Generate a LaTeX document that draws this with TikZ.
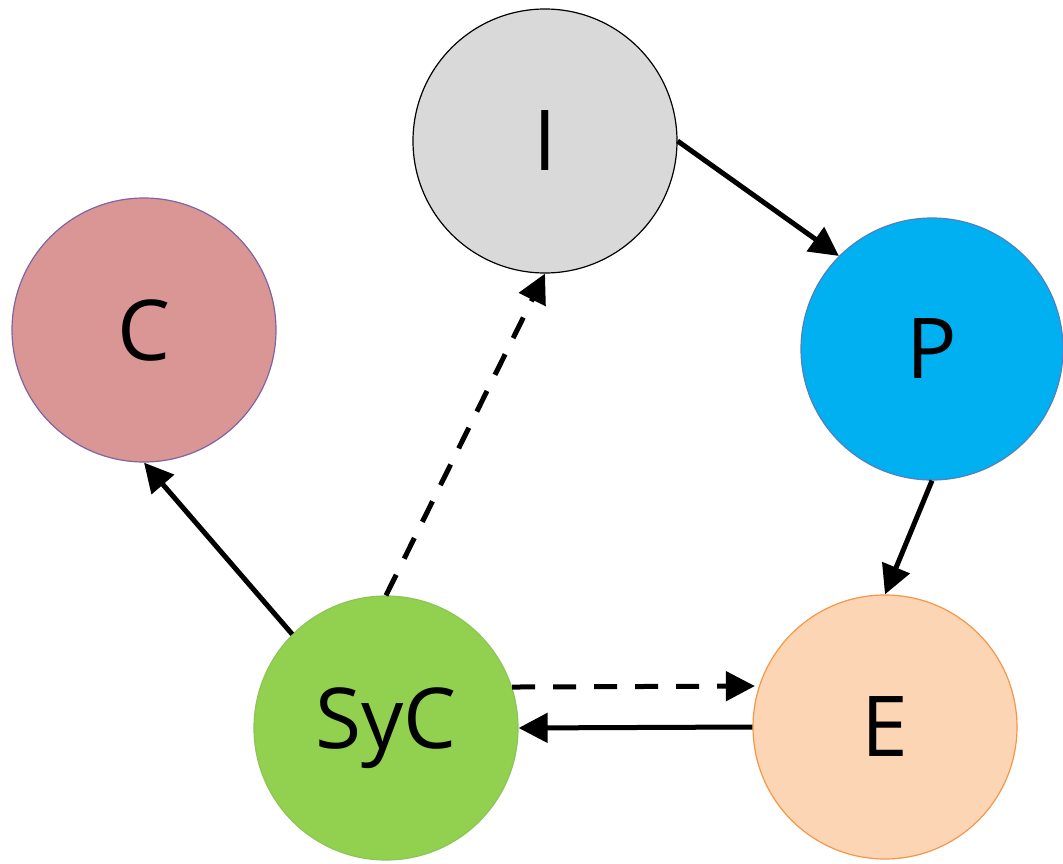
\documentclass[tikz,border=0pt]{standalone}
\usepackage{fontspec}
\setmainfont{Open Sans}
\usetikzlibrary{arrows.meta}

\definecolor{igray}{HTML}{D9D9D9}
\definecolor{cred}{HTML}{D99694}
\definecolor{cborder}{HTML}{8064A2}
\definecolor{pblue}{HTML}{00B0F0}
\definecolor{pborder}{HTML}{4F81BD}
\definecolor{sgreen}{HTML}{92D050}
\definecolor{sborder}{HTML}{8DC455}
\definecolor{epeach}{HTML}{FCD5B5}
\definecolor{eborder}{HTML}{F79646}

\begin{document}
\begin{tikzpicture}[
                x=1pt, y=-1pt,
                state/.style={circle, draw, line width=1.2pt, minimum size=264pt, inner sep=0pt,
                    font=\fontsize{84}{84}\selectfont},
                link/.style={line width=5pt, -{Triangle[length=29pt,width=29pt]}},
                weaklink/.style={link, dash pattern=on 23pt off 18pt}
            ]

                \useasboundingbox (0,0) rectangle (1063,864);

                \node[state, fill=igray, draw=black] (I) at (545,141) {I};
                \node[state, fill=cred, draw=cborder] (C) at (144,330) {C};
                \node[state, fill=pblue, draw=pborder, minimum size=262pt] (P) at (932,349) {P};
                \node[state, fill=sgreen, draw=sborder] (S) at (386,728) {SyC};
                \node[state, fill=epeach, draw=eborder] (E) at (885,727) {E};

                \draw[link] (I.east) -- (P.135);
                \draw[link] (P.south) -- (E.north);
                \draw[link] (S.135) -- (C.south);
                \draw[link] (E.west) -- (S.east);

                \draw[weaklink] (S.north) -- (I.south);
                \draw[weaklink, shorten >=4pt] (S.18) -- (E.162);

            \end{tikzpicture}
\end{document}
